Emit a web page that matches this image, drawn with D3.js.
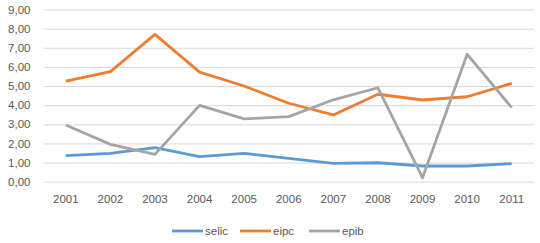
<!DOCTYPE html>
<html>
<head>
<meta charset="utf-8">
<script src="https://cdn.jsdelivr.net/npm/d3@7"></script>
<style>
  body { margin: 0; background: #fff; }
  text { font-family: "Liberation Sans", Arial, sans-serif; fill: #595959; }
</style>
</head>
<body>
<div id="main"></div>
<script>
// --- chart data
const years = ['2001', '2002', '2003', '2004', '2005', '2006', '2007', '2008', '2009', '2010', '2011'];
const selic = [1.36, 1.48, 1.78, 1.31, 1.48, 1.22, 0.96, 0.99, 0.82, 0.82, 0.94];
const eipc = [5.26, 5.75, 7.70, 5.73, 5.00, 4.10, 3.49, 4.57, 4.27, 4.44, 5.14];
const epib = [2.96, 1.95, 1.43, 3.99, 3.28, 3.40, 4.28, 4.91, 0.21, 6.66, 3.87];
const yTicks = [0, 1, 2, 3, 4, 5, 6, 7, 8, 9];

const series = [
  { name: 'selic', values: selic, color: '#5b9bd5' },
  { name: 'eipc', values: eipc, color: '#ed7d31' },
  { name: 'epib', values: epib, color: '#a5a5a5' }
];

const svgWidth = 540, svgHeight = 243;
const margin = { top: 9.5, right: 6, bottom: 61.3, left: 43.5 };
const chartWidth = svgWidth - margin.left - margin.right;
const chartHeight = svgHeight - margin.top - margin.bottom;

const svg = d3.select('#main')
  .append('svg')
  .attr('width', svgWidth)
  .attr('height', svgHeight);

const xScale = d3.scaleBand()
  .domain(years)
  .range([margin.left, margin.left + chartWidth]);

const yScale = d3.scaleLinear()
  .domain([0, 9])
  .range([margin.top + chartHeight, margin.top]);

const fmt = v => d3.format('.2f')(v).replace('.', ',');

// gridlines + y labels
const yAxis = svg.append('g')
  .attr('transform', `translate(${margin.left}, 0)`)
  .call(d3.axisLeft(yScale).tickValues(yTicks).tickFormat(fmt)
    .tickSize(-chartWidth).tickPadding(13));
yAxis.select('.domain').remove();
yAxis.selectAll('line').attr('stroke', '#d9d9d9').attr('stroke-width', 1);
yAxis.selectAll('text').style('font-size', '11.5px').style('fill', '#595959');

// x labels
const xAxis = svg.append('g')
  .attr('transform', `translate(0, ${margin.top + chartHeight})`)
  .call(d3.axisBottom(xScale).tickSize(0).tickPadding(13));
xAxis.select('.domain').remove();
xAxis.selectAll('text').style('font-size', '11.5px').style('fill', '#595959');

const line = d3.line()
  .x((d, i) => xScale(years[i]) + xScale.bandwidth() / 2)
  .y(d => yScale(d));

svg.selectAll('path.series')
  .data(series)
  .enter()
  .append('path')
  .attr('class', 'series')
  .attr('fill', 'none')
  .attr('stroke', d => d.color)
  .attr('stroke-width', 2.8)
  .attr('stroke-linejoin', 'round')
  .attr('d', d => line(d.values));

// legend
const legendX = [172, 240, 309];
const legend = svg.append('g').attr('transform', 'translate(0, 231)');
series.forEach((s, i) => {
  legend.append('line')
    .attr('x1', legendX[i]).attr('x2', legendX[i] + 31)
    .attr('y1', 0).attr('y2', 0)
    .attr('stroke', s.color).attr('stroke-width', 2.8);
  legend.append('text')
    .attr('x', legendX[i] + 33).attr('y', 4)
    .style('font-size', '11.5px')
    .text(s.name);
});
</script>
</body>
</html>
